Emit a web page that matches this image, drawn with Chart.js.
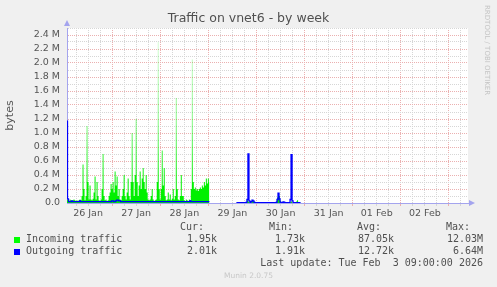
<!DOCTYPE html>
<html>
<head>
<meta charset="utf-8">
<script src="https://cdn.jsdelivr.net/npm/chart.js@4/dist/chart.umd.min.js"></script>
<style>
  html, body { margin: 0; padding: 0; background: #f0f0f0; }
  #wrap { position: relative; width: 497px; height: 287px; overflow: hidden; }
  #chart { position: absolute; left: 0; top: 0; }
  .t { position: absolute; white-space: pre; font-family: 'DejaVu Sans', sans-serif; color: #505050; }
  .m { position: absolute; white-space: pre; font-family: 'DejaVu Sans Mono', monospace; font-size: 10px; line-height: 12px; color: #505050; }
  .sq { position: absolute; width: 6px; height: 6px; }
</style>
</head>
<body>
<div id="wrap">
  <canvas id="chart" width="497" height="287"></canvas>
  <div class="t" style="left:0;width:497px;text-align:center;top:10px;font-size:12.5px;line-height:16px;">Traffic on vnet6 - by week</div>
  <div class="t" style="left:482px;top:5px;font-size:7px;line-height:9px;color:#c4c4c4;writing-mode:vertical-rl;">RRDTOOL / TOBI OETIKER</div>

  <div class="m" style="right:293px;top:221px;">Cur:</div>
  <div class="m" style="right:204px;top:221px;">Min:</div>
  <div class="m" style="right:116px;top:221px;">Avg:</div>
  <div class="m" style="right:27px;top:221px;">Max:</div>

  <div class="sq" style="left:14px;top:237px;background:#00ff00;"></div>
  <div class="m" style="left:26px;top:233px;">Incoming traffic</div>
  <div class="m" style="right:280px;top:233px;">1.95k</div>
  <div class="m" style="right:192px;top:233px;">1.73k</div>
  <div class="m" style="right:103px;top:233px;">87.05k</div>
  <div class="m" style="right:14px;top:233px;">12.03M</div>

  <div class="sq" style="left:14px;top:249px;background:#0000ff;"></div>
  <div class="m" style="left:26px;top:245px;">Outgoing traffic</div>
  <div class="m" style="right:280px;top:245px;">2.01k</div>
  <div class="m" style="right:192px;top:245px;">1.91k</div>
  <div class="m" style="right:103px;top:245px;">12.72k</div>
  <div class="m" style="right:14px;top:245px;">6.64M</div>

  <div class="m" style="right:14px;top:257px;">Last update: Tue Feb  3 09:00:00 2026</div>
  <div class="t" style="left:0;width:497px;text-align:center;top:271px;font-size:7.5px;line-height:10px;color:#c8c8c8;">Munin 2.0.75</div>
</div>

<script>
// x axis runs in hours from 26 Jan 00:00, one sample every 30 minutes
var dayLabels = ['26 Jan', '27 Jan', '28 Jan', '29 Jan', '30 Jan', '31 Jan', '01 Feb', '02 Feb'];
var stepHours = 0.5;

// first block of samples (values in M bytes), starting 26 Jan 01:30
var startA = 1.5;
var incomingA = [
    0.05, 0.04, 0.03, 0.05, 0.04, 0.03, 0.04, 0.05, 0.04, 0.03,
    0.04, 0.03, 0.04, 0.05, 0.04, 0.1, 0.55, 0.2, 0.04, 0.1,
    1.1, 0.3, 0.05, 0.25, 0.05, 0.04, 0.06, 0.15, 0.38, 0.05,
    0.3, 0.1, 0.04, 0.03, 0.05, 0.2, 0.7, 0.1, 0.04, 0.05,
    0.03, 0.04, 0.1, 0.15, 0.27, 0.2, 0.3, 0.15, 0.45, 0.25,
    0.38, 0.1, 0.2, 0.05, 0.04, 0.1, 0.2, 0.4, 0.1, 0.05,
    0.15, 0.35, 0.1, 0.05, 0.3, 1.0, 0.3, 0.1, 0.4, 1.2,
    0.3, 0.1, 0.25, 0.45, 0.2, 0.35, 0.5, 0.3, 0.2, 0.4,
    0.15, 0.05, 0.04, 0.05, 0.1, 0.2, 0.05, 0.03, 0.04, 0.05,
    0.3, 2.3, 0.2, 0.05, 0.2, 0.75, 0.25, 0.5, 0.1, 0.04,
    0.05, 0.15, 0.05, 0.12, 0.04, 0.06, 0.2, 0.05, 0.1, 1.5,
    0.2, 0.05, 0.04, 0.1, 0.4, 0.1, 0.1, 0.04, 0.03, 0.05,
    0.04, 0.03, 0.05, 0.04, 0.2, 2.05, 0.3, 0.2, 0.22, 0.18,
    0.2, 0.17, 0.2, 0.22, 0.2, 0.25, 0.22, 0.3, 0.25, 0.35,
    0.28, 0.35, 0.3
];
var outgoingA = [
    1.17, 0.06, 0.02, 0.02, 0.02, 0.03, 0.02, 0.02, 0.02, 0.02,
    0.02, 0.02, 0.02, 0.03, 0.02, 0.02, 0.02, 0.02, 0.02, 0.02,
    0.02, 0.02, 0.02, 0.02, 0.02, 0.02, 0.02, 0.02, 0.02, 0.02,
    0.02, 0.02, 0.02, 0.02, 0.02, 0.02, 0.02, 0.02, 0.02, 0.02,
    0.02, 0.02, 0.02, 0.02, 0.02, 0.03, 0.03, 0.02, 0.02, 0.03,
    0.04, 0.04, 0.03, 0.03, 0.02, 0.02, 0.02, 0.02, 0.02, 0.02,
    0.02, 0.02, 0.02, 0.02, 0.02, 0.02, 0.02, 0.02, 0.02, 0.02,
    0.02, 0.02, 0.02, 0.02, 0.02, 0.02, 0.02, 0.02, 0.02, 0.02,
    0.02, 0.02, 0.02, 0.02, 0.02, 0.02, 0.02, 0.02, 0.02, 0.02,
    0.02, 0.02, 0.02, 0.02, 0.02, 0.02, 0.02, 0.02, 0.02, 0.02,
    0.02, 0.02, 0.02, 0.02, 0.02, 0.02, 0.02, 0.02, 0.02, 0.02,
    0.02, 0.02, 0.02, 0.02, 0.02, 0.02, 0.02, 0.02, 0.02, 0.02,
    0.02, 0.02, 0.02, 0.03, 0.02, 0.02, 0.02, 0.02, 0.02, 0.02,
    0.02, 0.02, 0.02, 0.02, 0.02, 0.02, 0.02, 0.02, 0.02, 0.02,
    0.02, 0.02, 0.02
];

// second block, after the outage, starting 29 Jan 14:00
var startB = 86;
var incomingB = [
    0.005, 0.005, 0.005, 0.005, 0.005, 0.005, 0.005, 0.005, 0.005, 0.005,
    0.01, 0.04, 0.02, 0.01, 0.005, 0.01, 0.03, 0.03, 0.02, 0.005,
    0.005, 0.005, 0.005, 0.005, 0.005, 0.005, 0.005, 0.005, 0.005, 0.005,
    0.005, 0.005, 0.005, 0.005, 0.005, 0.005, 0.005, 0.005, 0.005, 0.005,
    0.02, 0.08, 0.12, 0.1, 0.03, 0.005, 0.005, 0.01, 0.005, 0.005,
    0.005, 0.005, 0.005, 0.005, 0.01, 0.02, 0.005, 0.005, 0.005, 0.005,
    0.02, 0.04, 0.01, 0.005, 0.005
];
var outgoingB = [
    0.005, 0.005, 0.005, 0.005, 0.005, 0.005, 0.005, 0.005, 0.005, 0.005,
    0.01, 0.05, 0.7, 0.03, 0.01, 0.02, 0.04, 0.03, 0.01, 0.005,
    0.005, 0.005, 0.005, 0.005, 0.005, 0.005, 0.005, 0.005, 0.005, 0.005,
    0.005, 0.005, 0.005, 0.005, 0.005, 0.005, 0.005, 0.005, 0.005, 0.005,
    0.01, 0.05, 0.14, 0.06, 0.01, 0.005, 0.01, 0.015, 0.01, 0.005,
    0.005, 0.005, 0.005, 0.005, 0.05, 0.69, 0.03, 0.005, 0.005, 0.005,
    0.005, 0.005, 0.005, 0.005, 0.005
];

var xMin = 1.5, xMax = 201.5;
var yMax = 2500000, yStep = 100000;

var red = '#ebb0b0';
var gray = '#d6d6d6';
var axisColor = '#a4a4ee';

function toPoints(start, vals) {
    return vals.map(function (v, i) { return { x: start + i * stepHours, y: v * 1e6 }; });
}
function series(a, b) {
    // a null point between the two blocks leaves the gap empty
    return toPoints(startA, a).concat([{ x: 80, y: null }], toPoints(startB, b));
}

function greenFill(ctx) {
    var area = ctx.chart.chartArea;
    if (!area) return '#00f000';
    var g = ctx.chart.ctx.createLinearGradient(0, area.bottom, 0, area.top);
    g.addColorStop(0, 'rgb(0,240,0)');
    g.addColorStop(0.12, 'rgb(0,240,0)');
    g.addColorStop(0.45, 'rgba(0,240,0,0.5)');
    g.addColorStop(1, 'rgba(0,240,0,0.1)');
    return g;
}

var munin = {
    id: 'munin',
    beforeDraw: function (chart) {
        var a = chart.chartArea, c = chart.ctx;
        c.save();
        c.fillStyle = '#ffffff';
        c.fillRect(a.left, a.top, a.right - a.left, a.bottom - a.top);
        c.restore();
    },
    afterDraw: function (chart) {
        var a = chart.chartArea, c = chart.ctx;
        c.save();
        c.fillStyle = axisColor;
        c.beginPath();
        c.moveTo(a.left - 3, a.top - 2);
        c.lineTo(a.left + 3, a.top - 2);
        c.lineTo(a.left, a.top - 8);
        c.fill();
        c.beginPath();
        c.moveTo(a.right + 1, a.bottom - 3);
        c.lineTo(a.right + 1, a.bottom + 3);
        c.lineTo(a.right + 7, a.bottom);
        c.fill();
        c.restore();
    }
};

new Chart(document.getElementById('chart'), {
    type: 'line',
    data: {
        datasets: [{
            label: 'Incoming traffic',
            data: series(incomingA, incomingB),
            borderWidth: 0,
            borderColor: 'rgba(0,0,0,0)',
            backgroundColor: greenFill,
            fill: 'origin',
            pointRadius: 0,
            stepped: 'middle',
            spanGaps: false,
            order: 2
        }, {
            label: 'Outgoing traffic',
            data: series(outgoingA, outgoingB),
            borderWidth: 1.3,
            borderColor: '#0000ff',
            fill: false,
            pointRadius: 0,
            stepped: 'middle',
            spanGaps: false,
            order: 1
        }]
    },
    options: {
        responsive: false,
        animation: false,
        devicePixelRatio: 1,
        layout: { padding: { left: 0, right: 29, top: 28, bottom: 64 } },
        plugins: {
            legend: { display: false },
            tooltip: { enabled: false }
        },
        scales: {
            x: {
                type: 'linear',
                min: xMin,
                max: xMax,
                afterBuildTicks: function (scale) {
                    var t = [];
                    for (var h = 6; h < xMax; h += 6) t.push({ value: h });
                    scale.ticks = t;
                },
                afterFit: function (scale) { scale.height = 20; },
                grid: {
                    color: function (ctx) { return ctx.tick && ctx.tick.value % 24 === 0 ? red : gray; },
                    lineWidth: 1,
                    tickLength: 3,
                    tickBorderDash: []
                },
                border: { color: axisColor, width: 1, dash: [1, 1] },
                ticks: {
                    autoSkip: false,
                    maxRotation: 0,
                    minRotation: 0,
                    padding: 2,
                    color: '#555555',
                    font: { family: 'DejaVu Sans', size: 9.5 },
                    callback: function (v) {
                        if (v % 24 !== 12) return '';
                        return dayLabels[(v - 12) / 24] || '';
                    }
                }
            },
            y: {
                min: 0,
                max: yMax,
                afterFit: function (scale) { scale.width = 67; },
                grid: {
                    color: function (ctx) {
                        if (!ctx.tick) return gray;
                        return Math.round(ctx.tick.value / yStep) % 2 === 0 ? red : gray;
                    },
                    lineWidth: 1,
                    drawTicks: false
                },
                border: { color: axisColor, width: 1, dash: [1, 1] },
                ticks: {
                    stepSize: yStep,
                    autoSkip: false,
                    padding: 7,
                    color: '#555555',
                    font: { family: 'DejaVu Sans', size: 9.5 },
                    callback: function (v) {
                        var n = Math.round(v / yStep);
                        if (n % 2 !== 0) return '';
                        if (n === 0) return '0.0';
                        return (v / 1e6).toFixed(1) + ' M';
                    }
                },
                title: {
                    display: true,
                    text: 'bytes',
                    color: '#555555',
                    font: { family: 'DejaVu Sans', size: 11 },
                    padding: { top: 4, bottom: 0 }
                }
            }
        }
    },
    plugins: [munin]
});
</script>
</body>
</html>
